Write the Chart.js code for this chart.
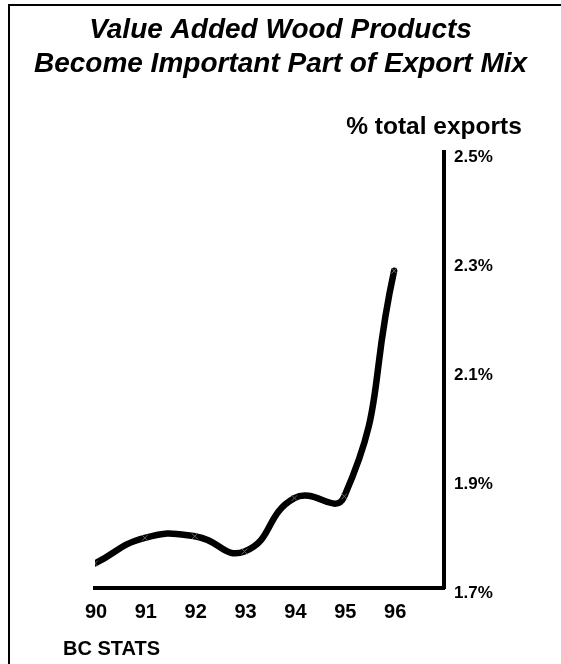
<!DOCTYPE html>
<html>
<head>
<meta charset="utf-8">
<script src="https://cdn.jsdelivr.net/npm/chart.js@4.4.1/dist/chart.umd.min.js"></script>
<style>
  html, body { margin: 0; padding: 0; background: #ffffff; }
  #wrap { position: relative; width: 561px; height: 664px; }
</style>
</head>
<body>
<div id="wrap"><canvas id="c" width="561" height="664"></canvas></div>
<script>
// ---- data ----
const titleLines = ['Value Added Wood Products', 'Become Important Part of Export Mix'];
const axisCaption = '% total exports';
const sourceNote = 'BC STATS';
const years = [90, 91, 92, 93, 94, 95, 96];
const shareOfExports = [1.745, 1.792, 1.795, 1.767, 1.865, 1.868, 2.282];
const yTickValues = [1.7, 1.9, 2.1, 2.3, 2.5];

const FONT = '"Liberation Sans", Arial, Helvetica, sans-serif';

const extras = {
  id: 'extras',
  beforeDraw(chart) {
    const ctx = chart.ctx;
    ctx.save();
    ctx.fillStyle = '#ffffff';
    ctx.fillRect(0, 0, chart.width, chart.height);
    ctx.strokeStyle = '#000';
    ctx.lineWidth = 2;
    ctx.beginPath();
    ctx.moveTo(9, chart.height);
    ctx.lineTo(9, 5);
    ctx.lineTo(chart.width, 5);
    ctx.stroke();
    ctx.restore();
  },
  afterDraw(chart) {
    const ctx = chart.ctx;
    const area = chart.chartArea;
    ctx.save();
    ctx.fillStyle = '#000';
    ctx.textBaseline = 'middle';
    ctx.font = 'bold 24.5px ' + FONT;
    ctx.textAlign = 'center';
    ctx.fillText(axisCaption, area.right - 10, area.top - 25);
    ctx.font = 'bold 20px ' + FONT;
    ctx.textAlign = 'left';
    ctx.fillText(sourceNote, 63, chart.height - 15);
    ctx.restore();
  }
};

new Chart(document.getElementById('c'), {
  type: 'line',
  data: {
    datasets: [{
      data: years.map((x, i) => ({ x: x, y: shareOfExports[i] })),
      borderColor: '#000',
      borderWidth: 6.5,
      tension: 0.5,
      borderCapStyle: 'round',
      pointStyle: 'crossRot',
      pointRadius: 4,
      pointBorderWidth: 1,
      pointBorderColor: '#666',
      pointBackgroundColor: '#666',
      yAxisID: 'y'
    }]
  },
  options: {
    responsive: false,
    animation: false,
    devicePixelRatio: 1,
    layout: { padding: 0 },
    plugins: {
      legend: { display: false },
      tooltip: { enabled: false },
      title: {
        display: true,
        text: titleLines,
        color: '#000',
        font: { family: FONT, size: 28, weight: 'bold', style: 'italic', lineHeight: 1.214 },
        padding: { top: 13, bottom: 71 }
      }
    },
    scales: {
      x: {
        type: 'linear',
        position: 'bottom',
        min: 90,
        max: 97,
        grid: { display: false, drawTicks: false },
        border: { display: true, color: '#000', width: 4 },
        ticks: {
          stepSize: 1,
          color: '#000',
          padding: 12,
          labelOffset: 1,
          font: { family: FONT, size: 20, weight: 'bold' },
          callback: v => (years.includes(v) ? String(v) : '')
        },
        afterFit: s => { s.height = 76; }
      },
      spacer: {
        type: 'linear',
        position: 'left',
        display: true,
        grid: { display: false, drawTicks: false },
        border: { display: false },
        ticks: { display: false },
        afterFit: s => { s.width = 95; }
      },
      y: {
        type: 'linear',
        position: 'right',
        min: 1.7,
        max: 2.5,
        grid: { display: false, drawTicks: false },
        border: { display: true, color: '#000', width: 4 },
        afterBuildTicks: s => { s.ticks = yTickValues.map(v => ({ value: v })); },
        ticks: {
          color: '#000',
          padding: 10,
          labelOffset: 5,
          font: { family: FONT, size: 17, weight: 'bold' },
          callback: v => v.toFixed(1) + '%'
        },
        afterFit: s => { s.width = 117; }
      }
    }
  },
  plugins: [extras]
});
</script>
</body>
</html>
